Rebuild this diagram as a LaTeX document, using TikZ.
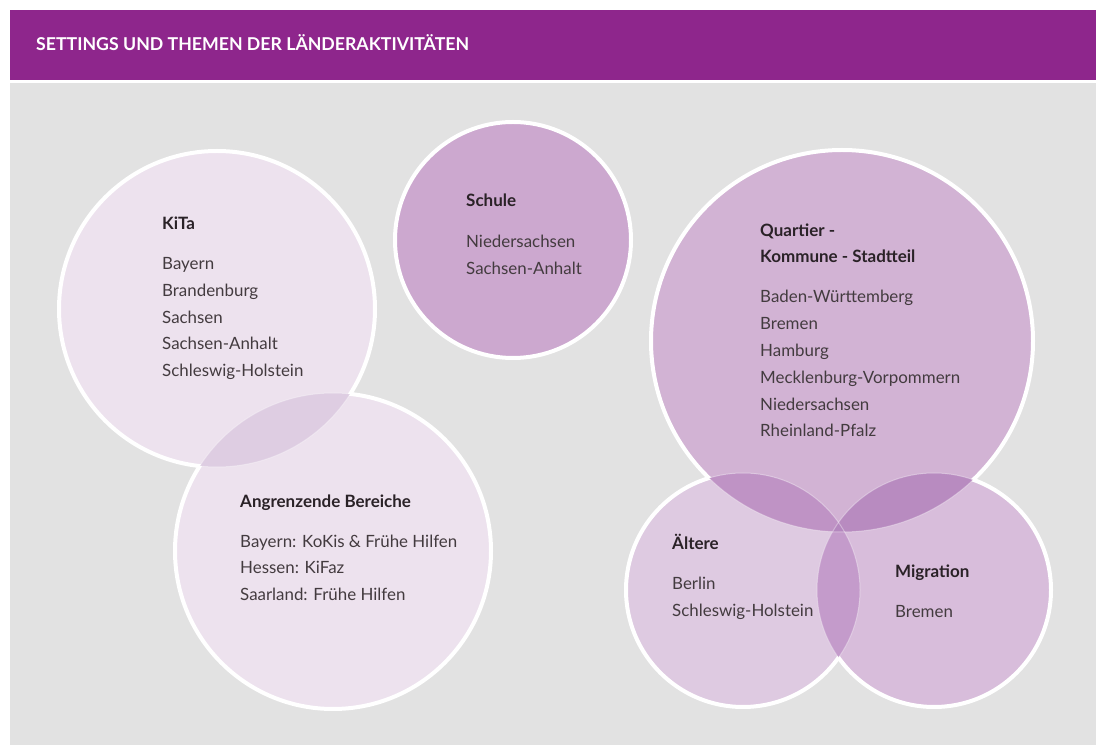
\documentclass[tikz,border=0pt]{standalone}
\usepackage{fontspec}
\setmainfont{Lato}
\definecolor{headpurple}{HTML}{8E268C}
\definecolor{bggray}{HTML}{E2E2E2}
\definecolor{cKita}{HTML}{EDE2EE}
\definecolor{cAng}{HTML}{EDE2EE}
\definecolor{cSchule}{HTML}{CCA8CF}
\definecolor{cQuart}{HTML}{D2B3D4}
\definecolor{cAelt}{HTML}{DECAE1}
\definecolor{cMig}{HTML}{D8BDDB}
\definecolor{lKA}{HTML}{DECDE2}
\definecolor{lQA}{HTML}{BF93C5}
\definecolor{lQM}{HTML}{B88BC0}
\definecolor{lAM}{HTML}{C49BCB}
\definecolor{lQAM}{HTML}{B487BE}
\definecolor{titlecol}{HTML}{2A2227}
\definecolor{itemcol}{HTML}{433B3F}
\tikzset{
  revclip/.style={insert path={(-50,-50) -- (-50,800) -- (1150,800) -- (1150,-50) -- cycle}},
  ttl/.style={anchor=base west, inner sep=0pt, text=titlecol, font=\fontsize{17}{20}\selectfont\bfseries},
  itm/.style={anchor=base west, inner sep=0pt, text=itemcol, font=\fontsize{16.9}{20}\selectfont},
  strong/.style={draw=white, line width=4},
  faint/.style={draw=white, draw opacity=0.35, line width=1}
}
\begin{document}
\begin{tikzpicture}[x=1pt,y=1pt]
\useasboundingbox (0,0) rectangle (1096,745);
\fill[white] (0,0) rectangle (1096,745);
\fill[headpurple] (10,665) rectangle (1096,735);
\fill[bggray] (10,0) rectangle (1096,662);
\node[anchor=base west, inner sep=0pt, text=white, font=\fontsize{17.7}{20}\selectfont\bfseries] (head) at (36,694) {SETTINGS UND THEMEN DER LÄNDERAKTIVITÄTEN};
% centres
\coordinate (kita) at (217,436);
\coordinate (ang) at (333,194);
\coordinate (schule) at (513,505);
\coordinate (quart) at (842,404);
\coordinate (aelt) at (743,155);
\coordinate (mig) at (934,155);
% fills
\fill[cKita] (kita) circle[radius=158];
\fill[cAng] (ang) circle[radius=158];
\fill[cSchule] (schule) circle[radius=118];
\fill[cQuart] (quart) circle[radius=191];
\fill[cAelt] (aelt) circle[radius=117];
\fill[cMig] (mig) circle[radius=117];
% lenses
\begin{scope}\clip (kita) circle[radius=158]; \fill[lKA] (ang) circle[radius=158];\end{scope}
\begin{scope}\clip (quart) circle[radius=191]; \fill[lQA] (aelt) circle[radius=117];\end{scope}
\begin{scope}\clip (quart) circle[radius=191]; \fill[lQM] (mig) circle[radius=117];\end{scope}
\begin{scope}\clip (aelt) circle[radius=117]; \fill[lAM] (mig) circle[radius=117];\end{scope}
\begin{scope}\clip (quart) circle[radius=191]; \clip (aelt) circle[radius=117]; \fill[lQAM] (mig) circle[radius=117];\end{scope}
% strong strokes outside other circles
\begin{scope}\clip[revclip] (ang) circle[radius=158]; \draw[strong] (kita) circle[radius=158];\end{scope}
\begin{scope}\clip[revclip] (kita) circle[radius=158]; \draw[strong] (ang) circle[radius=158];\end{scope}
\draw[strong] (schule) circle[radius=118];
\begin{scope}\clip[revclip] (aelt) circle[radius=117]; \clip[revclip] (mig) circle[radius=117]; \draw[strong] (quart) circle[radius=191];\end{scope}
\begin{scope}\clip[revclip] (quart) circle[radius=191]; \clip[revclip] (mig) circle[radius=117]; \draw[strong] (aelt) circle[radius=117];\end{scope}
\begin{scope}\clip[revclip] (quart) circle[radius=191]; \clip[revclip] (aelt) circle[radius=117]; \draw[strong] (mig) circle[radius=117];\end{scope}
% faint strokes
\draw[faint] (kita) circle[radius=158];
\draw[faint] (ang) circle[radius=158];
\draw[faint] (quart) circle[radius=191];
\draw[faint] (aelt) circle[radius=117];
\draw[faint] (mig) circle[radius=117];
% texts
\node[ttl] (kitaT) at (162,515) {KiTa};
\foreach \t [count=\i] in {Bayern, Brandenburg, Sachsen, Sachsen-Anhalt, Schleswig-Holstein}
  \node[itm] (kita\i) at (162,{475-(\i-1)*26.6}) {\t};
\node[ttl] (schuleT) at (466,538) {Schule};
\node[itm] (schule1) at (466,497) {Niedersachsen};
\node[itm] (schule2) at (466,470) {Sachsen-Anhalt};
\node[ttl] (quartT1) at (760,508) {Quartier -};
\node[ttl] (quartT2) at (760,482) {Kommune - Stadtteil};
\foreach \t [count=\i] in {Baden-Württemberg, Bremen, Hamburg, Mecklenburg-Vorpommern, Niedersachsen, Rheinland-Pfalz}
  \node[itm] (quart\i) at (760,{442-(\i-1)*26.8}) {\t};
\node[ttl] (angT) at (240,237) {Angrenzende Bereiche};
\node[itm] (ang1) at (240,197) {Bayern: KoKis \& Frühe Hilfen};
\node[itm] (ang2) at (240,171) {Hessen: KiFaz};
\node[itm] (ang3) at (240,144) {Saarland: Frühe Hilfen};
\node[ttl] (aeltT) at (672,195) {Ältere};
\node[itm] (aelt1) at (672,155) {Berlin};
\node[itm] (aelt2) at (672,128) {Schleswig-Holstein};
\node[ttl] (migT) at (895,167) {Migration};
\node[itm] (mig1) at (895,127) {Bremen};
\end{tikzpicture}
\end{document}
